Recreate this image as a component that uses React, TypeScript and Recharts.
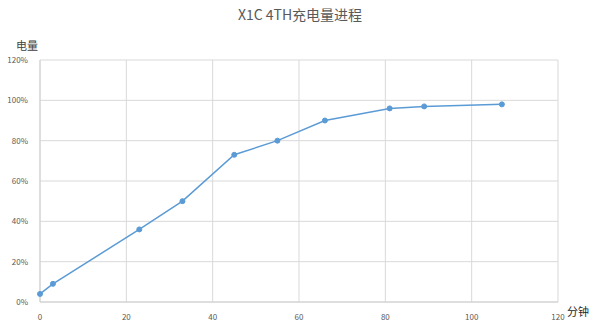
import React from "react";
import { LineChart, Line, XAxis, YAxis, CartesianGrid } from "recharts";

const minutes = [0, 3, 23, 33, 45, 55, 66, 81, 89, 107];
const charge = [4, 9, 36, 50, 73, 80, 90, 96, 97, 98];
const xTicks = [0, 20, 40, 60, 80, 100, 120];
const yTicks = [0, 20, 40, 60, 80, 100, 120];
const title = "X1C 4TH充电量进程";
const yLabel = "电量";
const xLabel = "分钟";

const data = minutes.map((m, i) => ({ m, v: charge[i] }));

const font = '"Noto Sans CJK SC", "Noto Sans", sans-serif';

export default function App() {
  return (
    <div style={{ position: "absolute", left: 0, top: 0, width: 600, height: 333, background: "#fff", fontFamily: font }}>
      <LineChart width={600} height={333} data={data} margin={{ top: 60, right: 42, bottom: 11, left: 0 }}>
        <CartesianGrid stroke="#d9d9d9" strokeWidth={1} />
        <XAxis
          dataKey="m"
          type="number"
          domain={[0, 120]}
          ticks={xTicks}
          height={20}
          axisLine={{ stroke: "#d0d0d0" }}
          tickLine={false}
          tick={{ fontSize: 8, fill: "#595959", fontFamily: font }}
          tickMargin={6}
          interval={0}
        />
        <YAxis
          type="number"
          domain={[0, 120]}
          ticks={yTicks}
          width={40}
          axisLine={{ stroke: "#d0d0d0" }}
          tickLine={false}
          tickFormatter={(v: number) => `${v}%`}
          tick={{ fontSize: 8, fill: "#595959", fontFamily: font }}
          tickMargin={6}
          interval={0}
        />
        <Line
          dataKey="v"
          stroke="#5b9bd5"
          strokeWidth={1.5}
          dot={{ r: 2.5, fill: "#5b9bd5", stroke: "#5b9bd5", strokeWidth: 1 }}
          isAnimationActive={false}
        />
      </LineChart>
      <div style={{ position: "absolute", left: 0, top: 5, width: 600, textAlign: "center", fontSize: 14, color: "#595959", lineHeight: "18px" }}>
        {title}
      </div>
      <div style={{ position: "absolute", left: 16, top: 38, fontSize: 11, color: "#404040", lineHeight: "14px" }}>
        {yLabel}
      </div>
      <div style={{ position: "absolute", left: 567, top: 304, fontSize: 11, color: "#262626", lineHeight: "14px" }}>
        {xLabel}
      </div>
    </div>
  );
}
